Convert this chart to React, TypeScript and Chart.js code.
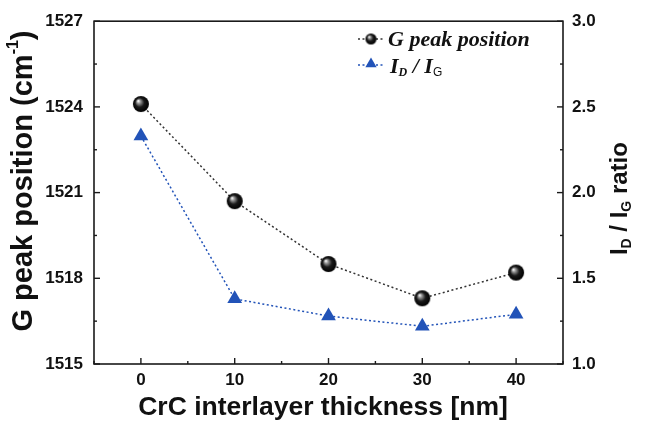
import React, { useEffect, useRef } from "react";
import { Chart, registerables } from "chart.js";

Chart.register(...registerables);

// ---- data ----
const thickness = [0, 10, 20, 30, 40];
const gPeak = [1524.1, 1520.7, 1518.5, 1517.3, 1518.2];
const ratio = [2.33, 1.38, 1.28, 1.22, 1.29];
const xTicks = [0, 10, 20, 30, 40];
const xMinor = [-5, 5, 15, 25, 35, 45];
const leftTicks = [1515, 1518, 1521, 1524, 1527];
const leftMinor = [1516.5, 1519.5, 1522.5, 1525.5];
const rightTicks = [1.0, 1.5, 2.0, 2.5, 3.0];
const rightMinor = [1.25, 1.75, 2.25, 2.75];

const SANS = "'Liberation Sans', Arial, sans-serif";
const SERIF = "'Liberation Serif', 'Times New Roman', serif";
const BLUE = "#2253b8";
const INK = "#1a1a1a";

function makeSphere(r: number): HTMLCanvasElement {
  const c = document.createElement("canvas");
  const s = Math.ceil(r * 2 + 2);
  c.width = s;
  c.height = s;
  const ctx = c.getContext("2d")!;
  const cx = s / 2, cy = s / 2;
  const g = ctx.createRadialGradient(cx - r * 0.35, cy - r * 0.4, 0.3, cx, cy, r);
  g.addColorStop(0, "#ffffff");
  g.addColorStop(0.2, "#9a9a9a");
  g.addColorStop(0.55, "#1a1a1a");
  g.addColorStop(1, "#000000");
  ctx.fillStyle = g;
  ctx.beginPath();
  ctx.arc(cx, cy, r, 0, Math.PI * 2);
  ctx.fill();
  return c;
}

type Part = { t: string; font: string; dy?: number };

function drawParts(ctx: CanvasRenderingContext2D, parts: Part[], x: number, y: number, align: "left" | "center") {
  let total = 0;
  for (const p of parts) {
    ctx.font = p.font;
    total += ctx.measureText(p.t).width;
  }
  let cx = align === "center" ? x - total / 2 : x;
  ctx.textBaseline = "middle";
  ctx.textAlign = "left";
  for (const p of parts) {
    ctx.font = p.font;
    ctx.fillText(p.t, cx, y + (p.dy || 0));
    cx += ctx.measureText(p.t).width;
  }
}

function drawTriangle(ctx: CanvasRenderingContext2D, x: number, y: number, r: number) {
  ctx.beginPath();
  ctx.moveTo(x, y - r);
  ctx.lineTo(x + r * 0.866, y + r * 0.5);
  ctx.lineTo(x - r * 0.866, y + r * 0.5);
  ctx.closePath();
  ctx.fill();
}

export default function App() {
  const ref = useRef<HTMLCanvasElement | null>(null);

  useEffect(() => {
    if (!ref.current) return;
    const sphere = makeSphere(8);
    const legendSphere = makeSphere(5.5);

    const decor = {
      id: "decor",
      afterDraw(chart: any) {
        const ctx: CanvasRenderingContext2D = chart.ctx;
        const a = chart.chartArea;
        const xs = chart.scales.x;
        const yl = chart.scales.y;
        const yr = chart.scales.y2;
        ctx.save();
        // frame
        ctx.strokeStyle = INK;
        ctx.lineWidth = 1.6;
        ctx.strokeRect(a.left, a.top, a.right - a.left, a.bottom - a.top);
        // inward ticks
        ctx.lineWidth = 1.4;
        const seg = (x1: number, y1: number, x2: number, y2: number) => {
          ctx.beginPath();
          ctx.moveTo(x1, y1);
          ctx.lineTo(x2, y2);
          ctx.stroke();
        };
        xTicks.forEach((v) => { const p = xs.getPixelForValue(v); seg(p, a.bottom, p, a.bottom - 6); });
        xMinor.forEach((v) => { const p = xs.getPixelForValue(v); seg(p, a.bottom, p, a.bottom - 3); });
        leftTicks.forEach((v) => { const p = yl.getPixelForValue(v); seg(a.left, p, a.left + 6, p); });
        leftMinor.forEach((v) => { const p = yl.getPixelForValue(v); seg(a.left, p, a.left + 3, p); });
        rightTicks.forEach((v) => { const p = yr.getPixelForValue(v); seg(a.right, p, a.right - 6, p); });
        rightMinor.forEach((v) => { const p = yr.getPixelForValue(v); seg(a.right, p, a.right - 3, p); });

        // axis titles
        ctx.fillStyle = "#111";
        drawParts(ctx, [{ t: "CrC interlayer thickness [nm]", font: `bold 26.5px ${SANS}` }], 323, 408, "center");

        ctx.save();
        ctx.translate(24, 181);
        ctx.rotate(-Math.PI / 2);
        drawParts(ctx, [
          { t: "G peak position (cm", font: `bold 29px ${SANS}` },
          { t: "-1", font: `bold 16px ${SANS}`, dy: -10 },
          { t: ")", font: `bold 29px ${SANS}` },
        ], 0, 0, "center");
        ctx.restore();

        ctx.save();
        ctx.translate(620, (a.top + a.bottom) / 2 + 6);
        ctx.rotate(-Math.PI / 2);
        drawParts(ctx, [
          { t: "I", font: `bold 24px ${SANS}` },
          { t: "D", font: `bold 14px ${SANS}`, dy: 7 },
          { t: " / I", font: `bold 24px ${SANS}` },
          { t: "G", font: `bold 14px ${SANS}`, dy: 7 },
          { t: " ratio", font: `bold 24px ${SANS}` },
        ], 0, 0, "center");
        ctx.restore();

        // legend
        const lx1 = 358, lx2 = 384, lmx = 371;
        const r1 = 39, r2 = 65;
        ctx.setLineDash([2, 2.5]);
        ctx.lineWidth = 1.5;
        ctx.strokeStyle = "#333";
        seg(lx1, r1, lx2, r1);
        ctx.strokeStyle = BLUE;
        seg(lx1, r2, lx2, r2);
        ctx.setLineDash([]);
        ctx.drawImage(legendSphere, lmx - legendSphere.width / 2, r1 - legendSphere.height / 2);
        ctx.fillStyle = BLUE;
        drawTriangle(ctx, lmx, r2 - 1, 6.5);
        ctx.fillStyle = "#111";
        drawParts(ctx, [{ t: "G peak position", font: `italic bold 22px ${SERIF}` }], 388, r1 + 1, "left");
        drawParts(ctx, [
          { t: "I", font: `italic bold 22px ${SERIF}` },
          { t: "D", font: `italic bold 12px ${SERIF}`, dy: 6 },
          { t: " / ", font: `italic bold 22px ${SERIF}` },
          { t: "I", font: `italic bold 22px ${SERIF}` },
          { t: "G", font: `12px ${SANS}`, dy: 6 },
        ], 390, r2 + 2, "left");
        ctx.restore();
      },
    };

    const chart = new Chart(ref.current, {
      type: "scatter",
      data: {
        datasets: [
          {
            label: "G peak position",
            data: thickness.map((x, i) => ({ x, y: gPeak[i] })),
            yAxisID: "y",
            showLine: true,
            borderColor: "#333",
            borderWidth: 1.5,
            borderDash: [2, 2.5],
            pointStyle: sphere as any,
            pointRadius: 8,
          },
          {
            label: "ID / IG",
            data: thickness.map((x, i) => ({ x, y: ratio[i] })),
            yAxisID: "y2",
            showLine: true,
            borderColor: BLUE,
            borderWidth: 1.5,
            borderDash: [2, 2.5],
            pointStyle: "triangle",
            pointRadius: 8.5,
            backgroundColor: BLUE,
            pointBorderColor: BLUE,
            pointBorderWidth: 0,
          },
        ],
      },
      options: {
        animation: false,
        responsive: true,
        maintainAspectRatio: false,
        layout: { padding: { top: 15, left: 0, right: 0, bottom: 0 } },
        plugins: { legend: { display: false }, tooltip: { enabled: false } },
        scales: {
          x: {
            type: "linear",
            min: -5,
            max: 45,
            afterBuildTicks: (s: any) => { s.ticks = xTicks.map((v) => ({ value: v })); },
            afterFit: (s: any) => { s.height = 59; },
            grid: { display: false, drawTicks: false },
            border: { display: false },
            ticks: { color: "#111", font: { family: SANS, size: 17, weight: "bold" }, padding: 6, maxRotation: 0 },
          },
          y: {
            type: "linear",
            position: "left",
            min: 1515,
            max: 1527,
            afterBuildTicks: (s: any) => { s.ticks = leftTicks.map((v) => ({ value: v })); },
            afterFit: (s: any) => { s.width = 94; },
            grid: { display: false, drawTicks: false },
            border: { display: false },
            ticks: { color: "#111", font: { family: SANS, size: 17, weight: "bold" }, padding: 11, callback: (v: any) => String(v) },
          },
          y2: {
            type: "linear",
            position: "right",
            min: 1,
            max: 3,
            afterBuildTicks: (s: any) => { s.ticks = rightTicks.map((v) => ({ value: v })); },
            afterFit: (s: any) => { s.width = 88; },
            grid: { display: false, drawTicks: false },
            border: { display: false },
            ticks: { color: "#111", font: { family: SANS, size: 17, weight: "bold" }, padding: 9, callback: (v: any) => Number(v).toFixed(1) },
          },
        },
      },
      plugins: [decor],
    } as any);

    return () => chart.destroy();
  }, []);

  return (
    <div style={{ position: "fixed", left: 0, top: 0, width: 651, height: 423, background: "#fff" }}>
      <canvas ref={ref} />
    </div>
  );
}
